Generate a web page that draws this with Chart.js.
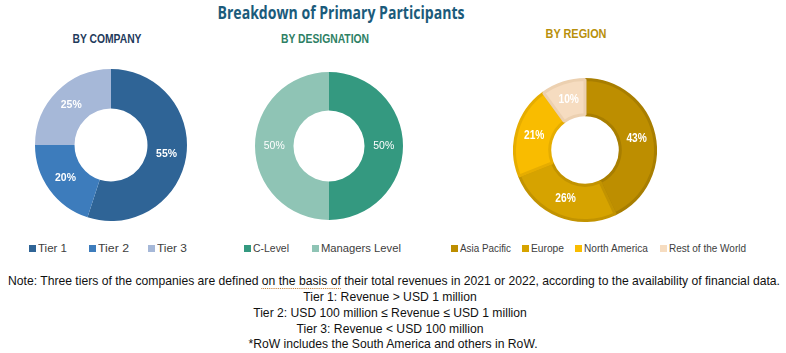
<!DOCTYPE html>
<html>
<head>
<meta charset="utf-8">
<script src="https://cdn.jsdelivr.net/npm/chart.js@4.4.0/dist/chart.umd.min.js"></script>
<style>
  body { margin: 0; background: #fff; }
  #wrap { position: relative; width: 786px; height: 353px; overflow: hidden; font-family: "Liberation Sans", Arial, sans-serif; }
  .abs { position: absolute; white-space: nowrap; }
  .c { transform-origin: 50% 50%; }
  #title { top: 1px; font: bold 17px "Open Sans", sans-serif; color: #1b5b7b; }
  .sub { font: bold 13px "Liberation Sans", Arial, sans-serif; }
  .leg { font-size: 11px; color: #404040; line-height: 12px; }
  .leg i { display: inline-block; width: 7px; height: 7px; margin-right: 2px; vertical-align: 0px; }
  .leg span { display: inline-block; transform-origin: 0 50%; }
  .note { font: 13px "Liberation Sans", Arial, sans-serif; color: #111; line-height: 16px; }
  .dot { border-bottom: 1px dotted #c07a30; }
  canvas { position: absolute; }
</style>
</head>
<body>
<div id="wrap">
  <div id="title" class="abs c" data-cx="341" data-w="247">Breakdown of Primary Participants</div>
  <div class="abs sub c" data-cx="107" data-w="69" style="top:31px;color:#1f3b5c">BY COMPANY</div>
  <div class="abs sub c" data-cx="325" data-w="88" style="top:31px;color:#2e8064">BY DESIGNATION</div>
  <div class="abs sub c" data-cx="576" data-w="61" style="top:26px;color:#b8900c">BY REGION</div>

  <div style="position:absolute;left:35px;top:69px;width:152px;height:152px"><canvas id="companyChart"></canvas></div>
  <div style="position:absolute;left:255px;top:72px;width:148px;height:148px"><canvas id="designationChart"></canvas></div>
  <div style="position:absolute;left:513px;top:78px;width:144px;height:144px"><canvas id="regionChart"></canvas></div>

  <div id="legends"></div>

  <div class="abs note c" data-cx="394" data-w="772" style="top:273px">Note: Three tiers of the companies are defined <span class="dot">on the basis of</span> their total revenues in 2021 or 2022, according to the availability of financial data.</div>
  <div class="abs note c" data-cx="390" data-s="1" style="top:289px">Tier 1: Revenue &gt; USD 1 million</div>
  <div class="abs note c" data-cx="390" data-s="1" style="top:305px">Tier 2: USD 100 million ≤ Revenue ≤ USD 1 million</div>
  <div class="abs note c" data-cx="390" data-s="1" style="top:321px">Tier 3: Revenue &lt; USD 100 million</div>
  <div class="abs note c" data-cx="393" data-s="1" style="top:336px">*RoW includes the South America and others in RoW.</div>
</div>

<script>
// データ
let companyLabels = ['Tier 1', 'Tier 2', 'Tier 3'];
let companyValues = [55, 20, 25];
let designationLabels = ['C-Level', 'Managers Level'];
let designationValues = [50, 50];
let regionLabels = ['Asia Pacific', 'Europe', 'North America', 'Rest of the World'];
let regionValues = [43, 26, 21, 10];

let companyColors = ['#2f6496', '#3d7cbc', '#a6b8d8'];
let designationColors = ['#349980', '#8fc4b5'];
let regionColors = ['#bd8e00', '#d6a300', '#f9bc00', '#f6dcc0'];
let regionBorders = ['#a87e00', '#c29300', '#e6ad00', '#ecd0b0'];

// 中央の%ラベルを描くプラグイン
let pctLabels = {
  id: 'pctLabels',
  afterDatasetsDraw(chart, args, opts) {
    let ctx = chart.ctx;
    let meta = chart.getDatasetMeta(0);
    ctx.save();
    ctx.fillStyle = '#fff';
    ctx.font = opts.font;
    ctx.textAlign = 'center';
    ctx.textBaseline = 'middle';
    meta.data.forEach((arc, i) => {
      let p = arc.tooltipPosition();
      ctx.save();
      ctx.translate(p.x, p.y);
      ctx.scale(opts.sx || 1, 1);
      ctx.fillText(chart.data.datasets[0].data[i] + '%', 0, 0);
      ctx.restore();
    });
    ctx.restore();
  }
};

function makeDonut(id, labels, values, colors, borders, borderWidth, cutout, font, sx) {
  return new Chart(document.getElementById(id), {
    type: 'doughnut',
    data: {
      labels: labels,
      datasets: [{
        data: values,
        backgroundColor: colors,
        borderColor: borders || '#fff',
        borderWidth: borderWidth
      }]
    },
    options: {
      responsive: true,
      maintainAspectRatio: false,
      animation: false,
      cutout: cutout,
      plugins: {
        legend: { display: false },
        tooltip: { enabled: false },
        pctLabels: { font: font, sx: sx }
      }
    },
    plugins: [pctLabels]
  });
}

makeDonut('companyChart', companyLabels, companyValues, companyColors, null, 0, '48%', 'bold 11px "Liberation Sans", Arial, sans-serif', 0.95);
makeDonut('designationChart', designationLabels, designationValues, designationColors, null, 0, '48%', '11px "Liberation Sans", Arial, sans-serif', 0.95);
makeDonut('regionChart', regionLabels, regionValues, regionColors, regionBorders, 3, '50%', 'bold 12px "Liberation Sans", Arial, sans-serif', 0.85);

// 凡例
let legendSets = [
  { labels: companyLabels, colors: companyColors, xs: [29, 89, 148], ws: [29, 31, 30] },
  { labels: designationLabels, colors: designationColors, xs: [244, 312], ws: [36, 80] },
  { labels: regionLabels, colors: regionColors, xs: [451, 522, 575, 660], ws: [51, 33, 64, 77] }
];
let legHtml = '';
legendSets.forEach(set => {
  set.labels.forEach((lab, i) => {
    legHtml += '<div class="abs leg" style="left:' + set.xs[i] + 'px;top:242px">' +
      '<i style="background:' + set.colors[i] + '"></i><span data-w="' + set.ws[i] + '">' + lab + '</span></div>';
  });
});
document.getElementById('legends').innerHTML = legHtml;

// 文字幅を参照画像に合わせる
document.querySelectorAll('.leg span').forEach(el => {
  let w = el.getBoundingClientRect().width;
  el.style.transform = 'scaleX(' + (el.dataset.w / w) + ')';
});
let noteScale = 1;
document.querySelectorAll('.c').forEach(el => {
  let w = el.getBoundingClientRect().width;
  let s = el.dataset.w ? el.dataset.w / w : noteScale;
  if (el.classList.contains('note') && el.dataset.w) noteScale = s;
  el.style.left = el.dataset.cx + 'px';
  el.style.transform = 'translateX(-50%) scaleX(' + s + ')';
});
</script>
</body>
</html>
